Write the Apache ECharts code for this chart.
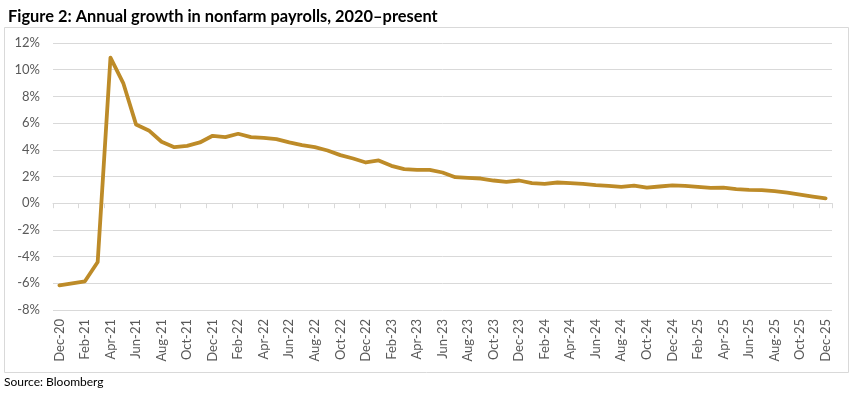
<!DOCTYPE html>
<html>
<head>
<meta charset="utf-8">
<script src="https://cdn.jsdelivr.net/npm/echarts@6/dist/echarts.min.js"></script>
<style>
html,body{margin:0;padding:0;background:#fff;}
#chart{width:853px;height:402px;}
</style>
</head>
<body>
<div id="chart"></div>
<script>
const titleText = 'Figure 2: Annual growth in nonfarm payrolls, 2020\u2013present';
const sourceText = 'Source: Bloomberg';
const categories = [
  'Dec-20',
  'Jan-21','Feb-21','Mar-21','Apr-21','May-21','Jun-21','Jul-21','Aug-21','Sep-21','Oct-21','Nov-21','Dec-21',
  'Jan-22','Feb-22','Mar-22','Apr-22','May-22','Jun-22','Jul-22','Aug-22','Sep-22','Oct-22','Nov-22','Dec-22',
  'Jan-23','Feb-23','Mar-23','Apr-23','May-23','Jun-23','Jul-23','Aug-23','Sep-23','Oct-23','Nov-23','Dec-23',
  'Jan-24','Feb-24','Mar-24','Apr-24','May-24','Jun-24','Jul-24','Aug-24','Sep-24','Oct-24','Nov-24','Dec-24',
  'Jan-25','Feb-25','Mar-25','Apr-25','May-25','Jun-25','Jul-25','Aug-25','Sep-25','Oct-25','Nov-25','Dec-25'
];
const payrollGrowth = [
  -6.15,
  -6.0, -5.85, -4.4, 10.9, 9.0, 5.9, 5.45, 4.6, 4.2, 4.3, 4.55, 5.05,
  4.95, 5.2, 4.95, 4.9, 4.8, 4.55, 4.35, 4.2, 3.95, 3.6, 3.35, 3.05,
  3.2, 2.8, 2.55, 2.5, 2.5, 2.3, 1.95, 1.9, 1.85, 1.7, 1.6, 1.7,
  1.5, 1.45, 1.55, 1.5, 1.45, 1.35, 1.3, 1.22, 1.32, 1.17, 1.25, 1.33,
  1.3, 1.22, 1.15, 1.17, 1.05, 1.0, 0.98, 0.9, 0.8, 0.65, 0.5, 0.37
];
const yMin = -8, yMax = 12, yStep = 2;

const chart = echarts.init(document.getElementById('chart'), null, {renderer:'canvas'});
const font = 'Lato, "Open Sans", sans-serif';
chart.setOption({
  animation: false,
  backgroundColor: '#ffffff',
  title: {
    text: titleText, left: 3, top: 4,
    textStyle: {fontFamily: font, fontWeight: 'bold', fontSize: 16.4, color: '#000'}
  },
  graphic: [
    {type:'rect', shape:{x:4.5, y:27.5, width:844, height:345}, style:{fill:'none', stroke:'#d9d9d9', lineWidth:1}, silent:true},
    {type:'text', left:4, top:376, style:{text: sourceText, font: '12px ' + font, fill:'#000'}}
  ],
  grid: {left: 53, right: 21, top: 43, bottom: 92, containLabel: false},
  xAxis: [
    {
      type:'category', data: categories, boundaryGap: true, position:'bottom',
      axisLine: {onZero: true, lineStyle: {color:'#d9d9d9', width:1}},
      axisTick: {show:true, interval:1, length:5, lineStyle:{color:'#d9d9d9'}},
      axisLabel: {show:false}
    },
    {
      type:'category', data: categories, boundaryGap: true, position:'bottom',
      axisLine: {show:false, onZero:false},
      axisTick: {show:false},
      axisLabel: {show:true, interval:1, rotate:90, margin:9, fontFamily: font, fontSize: 13, color:'#595959'}
    }
  ],
  yAxis: {
    type:'value', min: yMin, max: yMax, interval: yStep,
    axisLine: {show:false}, axisTick: {show:false},
    axisLabel: {formatter: '{value}%', fontFamily: font, fontSize: 13, color:'#595959', margin: 13},
    splitLine: {lineStyle: {color:'#d9d9d9', width:1}}
  },
  series: [{
    type:'line', data: payrollGrowth, xAxisIndex: 0,
    showSymbol:false, symbol:'none',
    lineStyle:{color:'#BD8B28', width:3.8, join:'round', cap:'round'},
    itemStyle:{color:'#BD8B28'}
  }]
});
</script>
</body>
</html>
